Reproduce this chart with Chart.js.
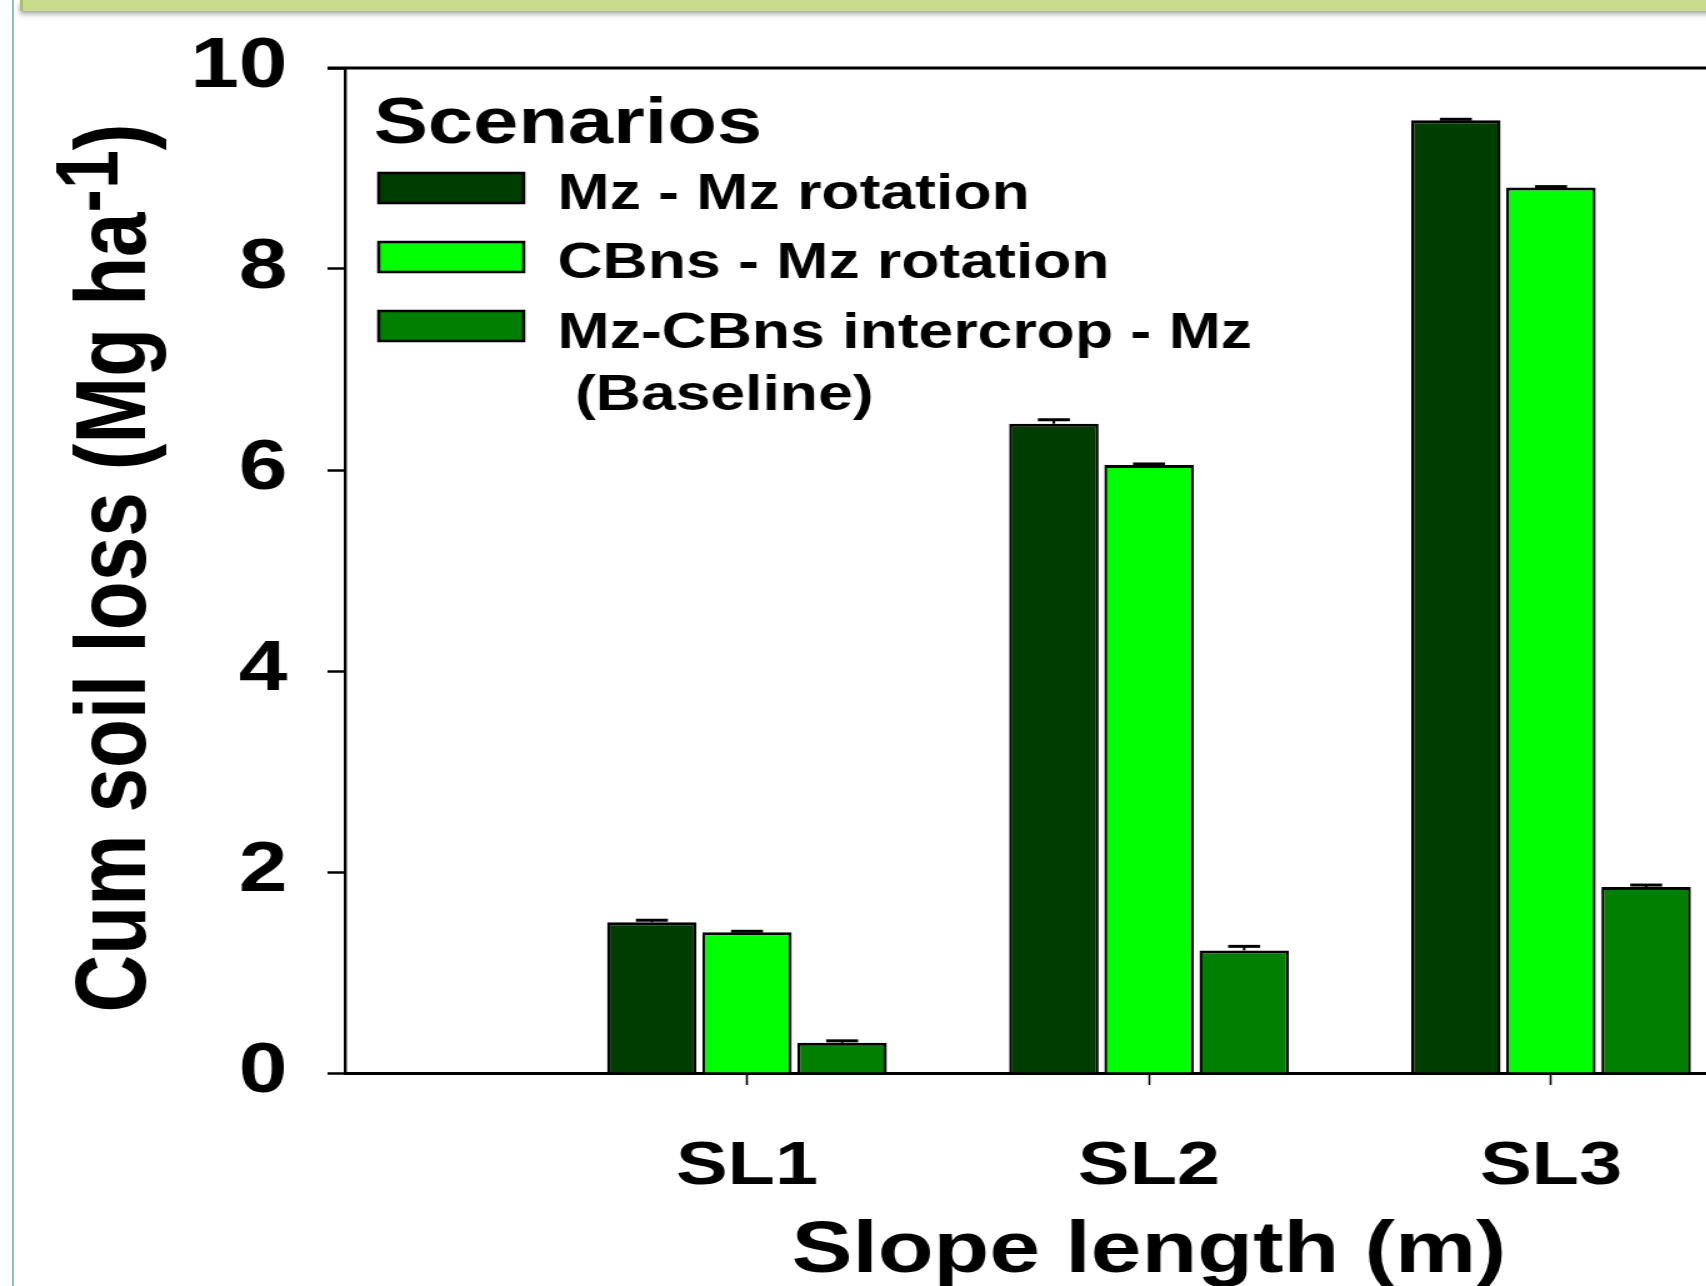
<!DOCTYPE html>
<html>
<head>
<meta charset="utf-8">
<script src="https://cdn.jsdelivr.net/npm/chart.js@4.4.1/dist/chart.umd.min.js"></script>
<style>
  html, body { margin: 0; padding: 0; background: #fff; overflow: hidden; }
  #page { position: relative; width: 1706px; height: 1286px; overflow: hidden; background: #fff; }
  /* the original figure is stretched sideways, so the chart is drawn narrow and widened */
  #stretch { position: absolute; left: 0; top: 0; transform: scaleX(1.25); transform-origin: 0 0; }
  #edge { position: absolute; left: 12px; top: 0; width: 2px; height: 1286px; background: #8fc4b4; }
  #banner { position: absolute; left: 20px; top: 0; width: 1700px; height: 11px; background: #c9dc8b;
            border-left: 3px solid #aebf6e; box-shadow: 0 3px 5px rgba(0,0,0,0.35); }
</style>
</head>
<body>
<div id="page">
  <div id="stretch"><canvas id="lossChart" width="1570" height="1286"></canvas></div>
  <div id="edge"></div>
  <div id="banner"></div>
</div>
<script>
const categories = ['SL1', 'SL2', 'SL3'];
const seriesNames = ['Mz - Mz rotation', 'CBns - Mz rotation', 'Mz-CBns intercrop - Mz\n (Baseline)'];
const mzMz = [1.50, 6.46, 9.48];
const cbnsMz = [1.40, 6.05, 8.81];
const intercrop = [0.30, 1.22, 1.85];
const mzMzErr = [0.02, 0.04, 0.01];
const cbnsMzErr = [0.01, 0.01, 0.01];
const intercropErr = [0.02, 0.04, 0.02];
const yTicks = [0, 2, 4, 6, 8, 10];
const colors = ['#003d00', '#00ff00', '#007f00'];

Chart.defaults.font.family = "'Liberation Sans', Arial, sans-serif";
Chart.defaults.font.weight = 'bold';
Chart.defaults.color = '#000';

const FONT = "'Liberation Sans', Arial, sans-serif";

function makeSet(i, values, errors) {
    return {
        label: seriesNames[i],
        data: values.map((v, k) => ({ x: k + 1, y: v })),
        errors: errors,
        backgroundColor: colors[i],
        borderColor: '#000',
        borderWidth: { top: 3, left: 2.4, right: 2.4, bottom: 0 },
        borderSkipped: 'start',
        categoryPercentage: 0.71,
        barPercentage: 0.94
    };
}

// small error caps on top of the bars
const errorBars = {
    id: 'errorBars',
    afterDatasetsDraw(chart) {
        const ctx = chart.ctx;
        const y = chart.scales.y;
        ctx.save();
        ctx.strokeStyle = '#000';
        chart.data.datasets.forEach((ds, di) => {
            chart.getDatasetMeta(di).data.forEach((bar, i) => {
                const top = y.getPixelForValue(ds.data[i].y + ds.errors[i]);
                ctx.lineWidth = 2;
                ctx.beginPath();
                ctx.moveTo(bar.x, bar.y);
                ctx.lineTo(bar.x, top);
                ctx.stroke();
                ctx.lineWidth = 3;
                ctx.beginPath();
                ctx.moveTo(bar.x - 12.8, top);
                ctx.lineTo(bar.x + 12.8, top);
                ctx.stroke();
            });
        });
        ctx.restore();
    }
};

// top frame line, starts at the end of the "10" tick
const frameTop = {
    id: 'frameTop',
    beforeDatasetsDraw(chart) {
        const { ctx, chartArea } = chart;
        ctx.save();
        ctx.strokeStyle = '#000';
        ctx.lineWidth = 3;
        ctx.beginPath();
        ctx.moveTo(chartArea.left - 14, chartArea.top);
        ctx.lineTo(chartArea.right, chartArea.top);
        ctx.stroke();
        ctx.restore();
    }
};

// y title with superscript -1
const yTitle = {
    id: 'yTitle',
    afterDraw(chart) {
        const ctx = chart.ctx;
        const main = 'Cum soil loss (Mg ha';
        const sup = '-1';
        const end = ')';
        ctx.save();
        ctx.fillStyle = '#000';
        ctx.textBaseline = 'alphabetic';
        ctx.textAlign = 'left';
        ctx.font = 'bold 80px ' + FONT;
        const w1 = ctx.measureText(main).width;
        const w3 = ctx.measureText(end).width;
        ctx.font = 'bold 70px ' + FONT;
        const w2 = ctx.measureText(sup).width;
        const total = w1 + w2 + w3;
        ctx.translate(116, 568);
        ctx.rotate(-Math.PI / 2);
        let x = -total / 2;
        ctx.font = 'bold 80px ' + FONT;
        ctx.fillText(main, x, 0);
        x += w1;
        ctx.font = 'bold 70px ' + FONT;
        ctx.fillText(sup, x, -22);
        x += w2;
        ctx.font = 'bold 80px ' + FONT;
        ctx.fillText(end, x, 0);
        ctx.restore();
    }
};

// legend block in the upper left of the plot
const scenarioLegend = {
    id: 'scenarioLegend',
    afterDraw(chart) {
        const ctx = chart.ctx;
        ctx.save();
        ctx.fillStyle = '#000';
        ctx.textAlign = 'left';
        ctx.textBaseline = 'alphabetic';
        ctx.font = 'bold 65px ' + FONT;
        ctx.fillText('Scenarios', 299, 143);
        const boxTops = [173, 242, 311];
        const baselines = [209, 278, 348];
        ctx.font = 'bold 50px ' + FONT;
        chart.data.datasets.forEach((ds, i) => {
            ctx.fillStyle = ds.backgroundColor;
            ctx.fillRect(303, boxTops[i], 116, 30);
            ctx.strokeStyle = '#000';
            ctx.lineWidth = 2.5;
            ctx.strokeRect(303, boxTops[i], 116, 30);
            ctx.fillStyle = '#000';
            ds.label.split('\n').forEach((line, k) => {
                ctx.fillText(line, 446, baselines[i] + k * 62);
            });
        });
        ctx.restore();
    }
};

const lossChart = new Chart(document.getElementById('lossChart'), {
    type: 'bar',
    data: {
        datasets: [
            makeSet(0, mzMz, mzMzErr),
            makeSet(1, cbnsMz, cbnsMzErr),
            makeSet(2, intercrop, intercropErr)
        ]
    },
    options: {
        responsive: false,
        animation: false,
        devicePixelRatio: 1,
        layout: { padding: { top: 68, right: 7.6, bottom: 0, left: 0 } },
        plugins: {
            legend: { display: false },
            tooltip: { enabled: false }
        },
        scales: {
            x: {
                type: 'linear',
                min: 0,
                max: 4,
                offset: false,
                afterBuildTicks: scale => {
                    scale.ticks = categories.map((c, i) => ({ value: i + 1 }));
                },
                afterFit: scale => { scale.height = 213; },
                ticks: {
                    callback: value => categories[value - 1] || '',
                    font: { size: 62, weight: 'bold' },
                    padding: 45,
                    maxRotation: 0,
                    autoSkip: false
                },
                grid: {
                    offset: false,
                    drawOnChartArea: false,
                    drawTicks: true,
                    tickLength: 12,
                    tickWidth: 1.6,
                    tickColor: '#000'
                },
                border: { display: true, color: '#000', width: 3 },
                title: {
                    display: true,
                    text: 'Slope length (m)',
                    font: { size: 73, weight: 'bold', lineHeight: 1 },
                    padding: { top: 0, bottom: -2 }
                }
            },
            y: {
                min: 0,
                max: 10,
                afterBuildTicks: scale => {
                    scale.ticks = yTicks.map(v => ({ value: v }));
                },
                afterFit: scale => {
                    scale.width = 276;
                    scale.paddingTop = 0;
                    scale.paddingBottom = 0;
                },
                ticks: {
                    font: { size: 70, weight: 'bold' },
                    padding: 32
                },
                grid: {
                    drawOnChartArea: false,
                    drawTicks: true,
                    tickLength: 14,
                    tickWidth: 2.5,
                    tickColor: '#000'
                },
                border: { display: true, color: '#000', width: 2.4 },
                title: { display: false }
            }
        }
    },
    plugins: [frameTop, errorBars, yTitle, scenarioLegend]
});
</script>
</body>
</html>
